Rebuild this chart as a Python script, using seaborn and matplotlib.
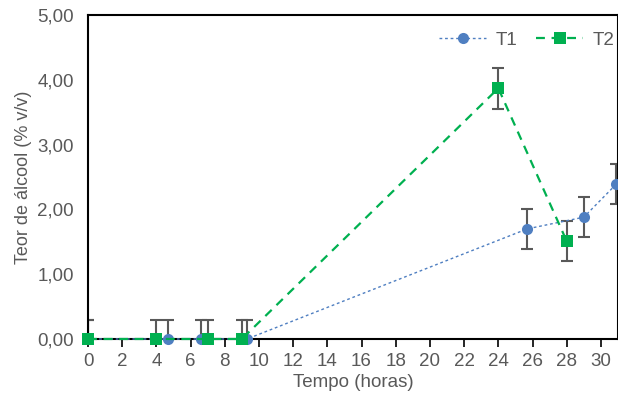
import numpy as np
import pandas as pd
import seaborn as sns
import matplotlib.pyplot as plt
from matplotlib.ticker import FuncFormatter

# Data
t1_time = [0, 4.7, 6.6, 9.3, 25.7, 29.0, 30.9]
t1_alcool = [0.0, 0.0, 0.0, 0.0, 1.70, 1.88, 2.39]
t1_err = [0.3, 0.3, 0.3, 0.3, 0.31, 0.31, 0.31]

t2_time = [0, 4, 7, 9, 24, 28]
t2_alcool = [0.0, 0.0, 0.0, 0.0, 3.87, 1.51]
t2_err = [0.3, 0.3, 0.3, 0.3, 0.32, 0.31]

df1 = pd.DataFrame({'tempo': t1_time, 'teor': t1_alcool, 'err': t1_err})
df2 = pd.DataFrame({'tempo': t2_time, 'teor': t2_alcool, 'err': t2_err})

sns.set_style('white')
plt.rcParams['font.family'] = ['Liberation Sans', 'DejaVu Sans']

fig = plt.figure(figsize=(6.18, 3.96), dpi=100)
ax = fig.add_axes([0.1424, 0.144, 0.8576, 0.818])

grey = '#595959'
blue = '#4F7FC1'
green = '#00B050'

# error bars
ax.errorbar(df1['tempo'], df1['teor'], yerr=df1['err'], fmt='none',
            ecolor=grey, elinewidth=1.5, capsize=4, capthick=1.5, zorder=1)
ax.errorbar(df2['tempo'], df2['teor'], yerr=df2['err'], fmt='none',
            ecolor=grey, elinewidth=1.5, capsize=4, capthick=1.5, zorder=1)

sns.lineplot(data=df1, x='tempo', y='teor', ax=ax, color=blue, marker='o',
             markersize=8, markeredgewidth=0, linestyle=(0, (2, 2)),
             linewidth=1, label='T1', sort=False, zorder=4, clip_on=False)
sns.lineplot(data=df2, x='tempo', y='teor', ax=ax, color=green, marker='s',
             markersize=8, markeredgewidth=0, linestyle=(0, (4, 3)),
             linewidth=1.6, label='T2', sort=False, zorder=5, clip_on=False)

ax.set_xlim(0, 31)
ax.set_ylim(0, 5)
ax.set_xticks(np.arange(0, 31, 2))
ax.set_yticks(np.arange(0, 5.01, 1))
ax.yaxis.set_major_formatter(FuncFormatter(lambda v, p: f'{v:.2f}'.replace('.', ',')))

for side in ['left', 'bottom', 'top', 'right']:
    ax.spines[side].set_color('black')
    ax.spines[side].set_linewidth(1.5)

ax.tick_params(axis='x', direction='out', length=6, width=1.2, color='black',
               labelsize=13.5, labelcolor=grey, pad=4, bottom=True)
ax.tick_params(axis='y', length=0, labelsize=13.5, labelcolor=grey, pad=10)

ax.set_xlabel('Tempo (horas)', fontsize=13.5, color=grey, labelpad=3)
ax.set_ylabel('Teor de álcool (% v/v)', fontsize=13, color=grey, labelpad=4)

ax.legend(loc='upper right', bbox_to_anchor=(1.025, 1.0), ncol=2, frameon=False,
          fontsize=13.5, labelcolor=grey, handlelength=2.5, columnspacing=1.0,
          handletextpad=0.5)

plt.savefig('out.png', dpi=100)
